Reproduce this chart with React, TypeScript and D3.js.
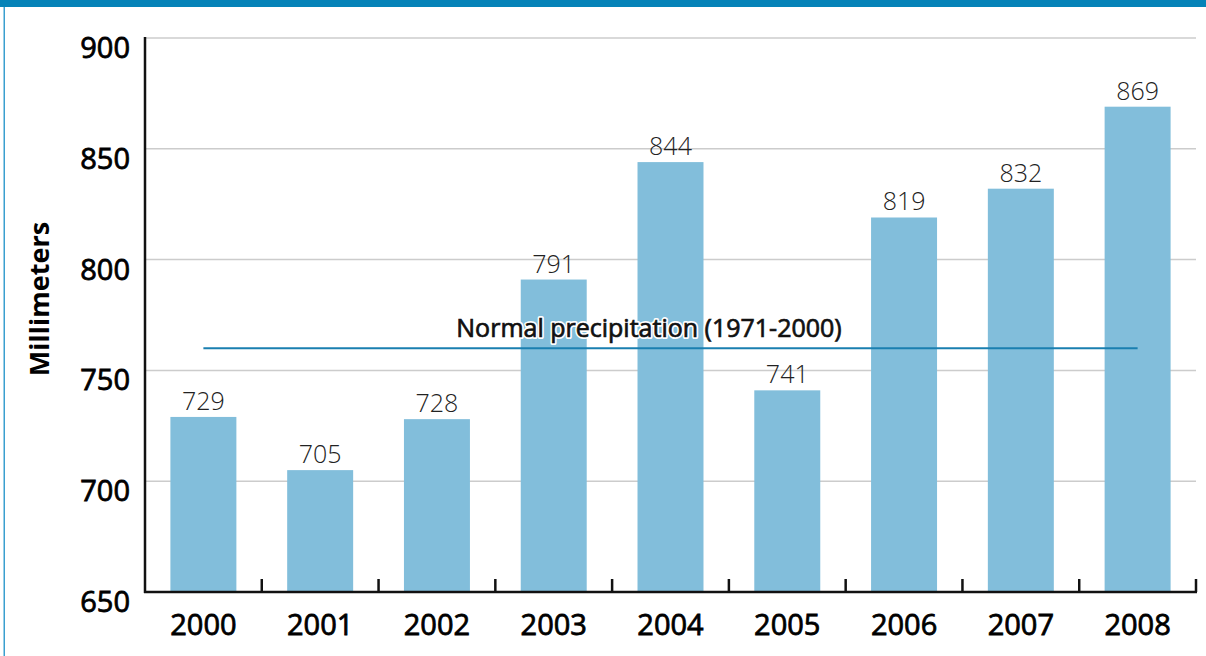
import React from "react";
import * as d3 from "d3";

const years = ["2000", "2001", "2002", "2003", "2004", "2005", "2006", "2007", "2008"];
const precipitation = [729, 705, 728, 791, 844, 741, 819, 832, 869];
const yTicks = [650, 700, 750, 800, 850, 900];
const normalValue = 760;
const normalLabel = "Normal precipitation (1971-2000)";
const yTitle = "Millimeters";

const W = 1206;
const H = 656;
const FONT = "'Open Sans', 'Noto Sans', sans-serif";

export default function App() {
  const left = 145;
  const right = 1196;
  const top = 38;
  const bottom = 592;

  const x = d3.scaleBand<string>().domain(years).range([left, right]).paddingInner(0.435).paddingOuter(0.2175);
  const y = d3.scaleLinear().domain([650, 900]).range([bottom, top]);

  const boundaries = years.map((_, i) => left + ((right - left) / years.length) * (i + 1));
  const firstC = x(years[0])! + x.bandwidth() / 2;
  const lastC = x(years[years.length - 1])! + x.bandwidth() / 2;

  const medium = { fontWeight: 400, fill: "#000", stroke: "#000", strokeWidth: 0.8 } as const;

  return (
    <div style={{ position: "fixed", left: 0, top: 0, width: W, height: H, background: "#fff" }}>
      <svg width={W} height={H} style={{ display: "block", fontFamily: FONT }}>
        <rect x={0} y={0} width={W} height={7} fill="#0583b8" />
        <rect x={3.5} y={7} width={1.5} height={H - 7} fill="#3a9fcf" />
        {yTicks.filter((t) => t > 650).map((t) => (
          <line key={t} x1={left} x2={right} y1={y(t)} y2={y(t)} stroke="#cccccc" strokeWidth={1.5} />
        ))}
        {years.map((yr, i) => (
          <rect
            key={yr}
            x={x(yr)}
            y={y(precipitation[i])}
            width={x.bandwidth()}
            height={bottom - y(precipitation[i])}
            fill="#82bedb"
          />
        ))}
        {years.map((yr, i) => (
          <text
            key={yr}
            x={x(yr)! + x.bandwidth() / 2}
            y={y(precipitation[i]) - 7}
            textAnchor="middle"
            fontSize={25}
            fontWeight={300}
            fill="#222"
          >
            {precipitation[i]}
          </text>
        ))}
        <line x1={firstC} x2={lastC} y1={y(normalValue)} y2={y(normalValue)} stroke="#1a7fb0" strokeWidth={2} />
        <text
          x={649}
          y={y(normalValue) - 11}
          textAnchor="middle"
          fontSize={25}
          fontWeight={400}
          fill="#fff"
          stroke="#fff"
          strokeWidth={4}
          strokeLinejoin="round"
        >
          {normalLabel}
        </text>
        <text
          x={649}
          y={y(normalValue) - 11}
          textAnchor="middle"
          fontSize={25}
          {...medium}
          fill="#111"
          stroke="#111"
          strokeWidth={0.7}
        >
          {normalLabel}
        </text>
        <line x1={left} x2={left} y1={top - 1} y2={bottom + 1} stroke="#111" strokeWidth={2.5} />
        <line x1={left - 1} x2={right + 1} y1={bottom} y2={bottom} stroke="#111" strokeWidth={2.5} />
        {boundaries.map((b, i) => (
          <line key={i} x1={b} x2={b} y1={bottom - 13} y2={bottom} stroke="#111" strokeWidth={2.5} />
        ))}
        {yTicks.map((t) => (
          <text key={t} x={130} y={y(t) + 20} textAnchor="end" fontSize={29} {...medium}>
            {t}
          </text>
        ))}
        {years.map((yr) => (
          <text key={yr} x={x(yr)! + x.bandwidth() / 2} y={635} textAnchor="middle" fontSize={29} {...medium}>
            {yr}
          </text>
        ))}
        <text
          transform={`translate(49,${299}) rotate(-90)`}
          textAnchor="middle"
          fontSize={27}
          fontWeight={700}
          fill="#000"
        >
          {yTitle}
        </text>
      </svg>
    </div>
  );
}
